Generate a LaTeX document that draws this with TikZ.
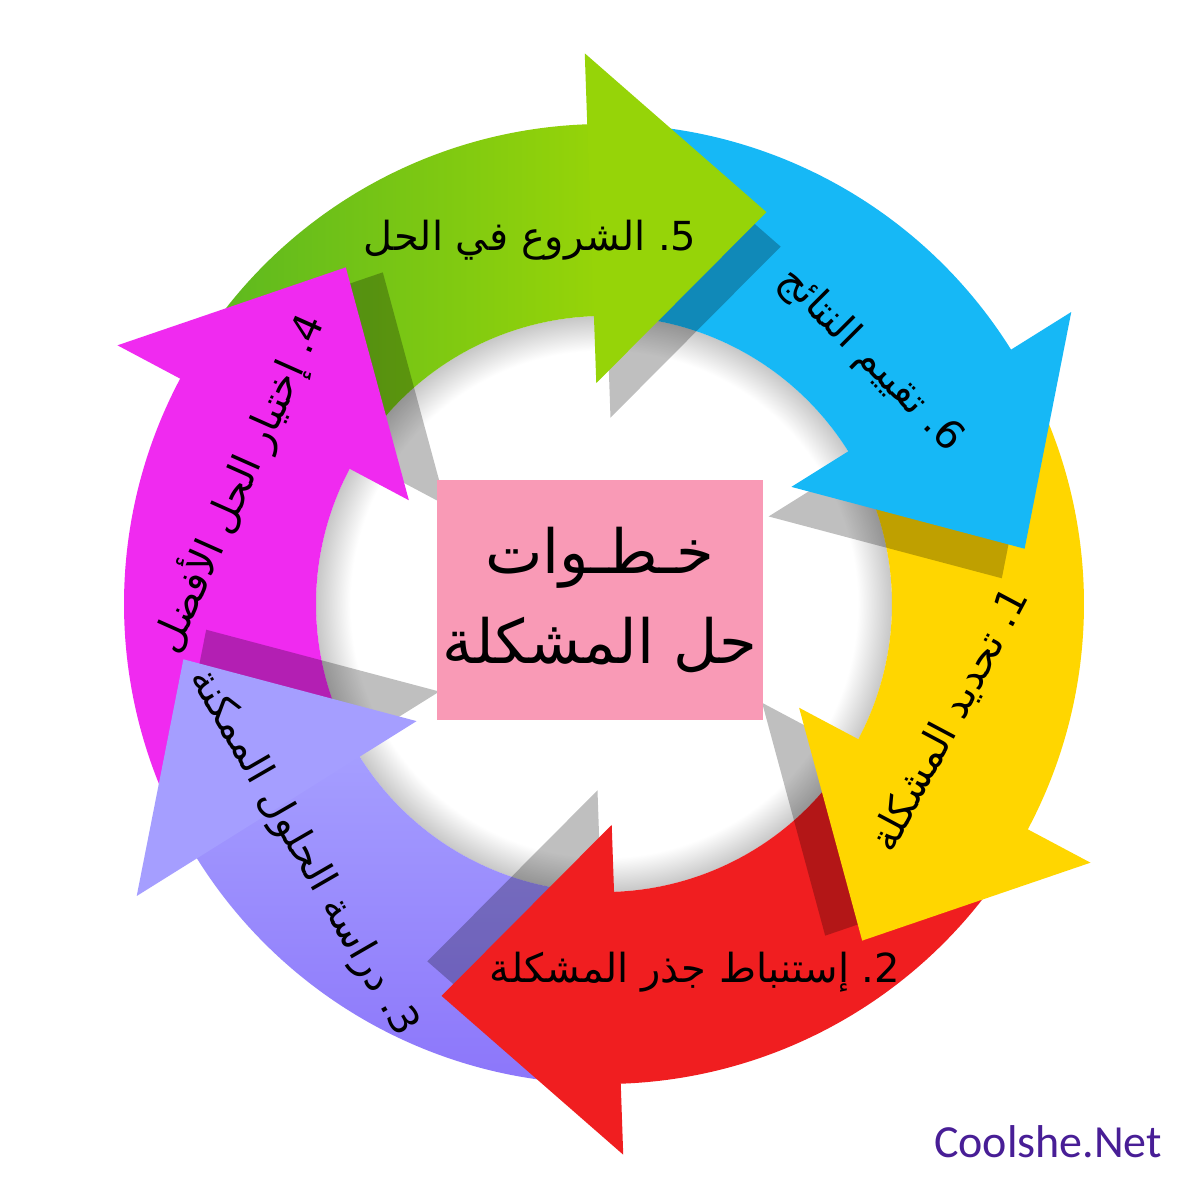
\documentclass[tikz,border=0pt]{standalone}
\usepackage{fontspec}
\TeXXeTstate=1
\newfontfamily\arabicfont[Script=Arabic]{DejaVu Sans}
\newfontfamily\sitefont{Carlito}

\definecolor{stepgreen}{RGB}{150,212,8}
\definecolor{stepgreendark}{RGB}{92,184,32}
\definecolor{stepblue}{RGB}{22,184,246}
\definecolor{stepyellow}{RGB}{255,214,0}
\definecolor{stepred}{RGB}{240,30,32}
\definecolor{steplilac}{RGB}{165,158,255}
\definecolor{steplilacdark}{RGB}{140,118,250}
\definecolor{stepmagenta}{RGB}{240,42,240}
\definecolor{boxpink}{RGB}{249,154,182}
\definecolor{sitepurple}{RGB}{72,30,150}

\pgfdeclareradialshading{innershadow}{\pgfpoint{0bp}{0bp}}{color(0bp)=(white); color(22bp)=(white); color(25bp)=(black!22); color(50bp)=(black!22)}

\tikzset{
	headshadow/.style={fill=black, opacity=.25},
	steptext/.style={font=\arabicfont\fontsize{40}{48}\selectfont, inner sep=0pt},
	titlebox/.style={fill=boxpink, minimum width=326, minimum height=240, inner sep=2pt, align=center,
		font=\arabicfont\fontsize{61}{90}\selectfont}
}

\begin{document}
\begin{tikzpicture}[x=1pt, y=1pt]
	\useasboundingbox (-604,-596) rectangle (596,604);
	\fill[white] (-604,-596) rectangle (596,604);

	% shadow inside the ring
	\shade[shading=innershadow] (0,0) circle[radius=288];

	% ring parts
	\shade[left color=stepgreendark, right color=stepgreen]
		(146:480) arc[start angle=146, end angle=91, radius=480] -- (91:288) arc[start angle=91, end angle=146, radius=288] -- cycle;
	\fill[stepblue]    (86:480) arc[start angle=86, end angle=31, radius=480] -- (31:288) arc[start angle=31, end angle=86, radius=288] -- cycle;
	\fill[stepyellow]  (26:480) arc[start angle=26, end angle=-29, radius=480] -- (-29:288) arc[start angle=-29, end angle=26, radius=288] -- cycle;
	\fill[stepred]     (-34:480) arc[start angle=-34, end angle=-89, radius=480] -- (-89:288) arc[start angle=-89, end angle=-34, radius=288] -- cycle;
	\shade[top color=steplilac, bottom color=steplilacdark]
		(-94:480) arc[start angle=-94, end angle=-149, radius=480] -- (-149:288) arc[start angle=-149, end angle=-94, radius=288] -- cycle;
	\fill[stepmagenta] (206:480) arc[start angle=206, end angle=151, radius=480] -- (151:288) arc[start angle=151, end angle=206, radius=288] -- cycle;

	% shadows of the heads
	\fill[headshadow, rotate=92]   (186,-13) -- (516,-13) -- (351,-189) -- cycle;
	\fill[headshadow, rotate=32]   (186,-13) -- (516,-13) -- (351,-189) -- cycle;
	\fill[headshadow, rotate=-28]  (186,-13) -- (516,-13) -- (351,-189) -- cycle;
	\fill[headshadow, rotate=-88]  (186,-13) -- (516,-13) -- (351,-189) -- cycle;
	\fill[headshadow, rotate=-148] (186,-13) -- (516,-13) -- (351,-189) -- cycle;
	\fill[headshadow, rotate=152]  (186,-13) -- (516,-13) -- (351,-189) -- cycle;

	% heads
	\fill[stepgreen, rotate=92]      (221,0) -- (551,0) -- (386,-176) -- cycle;
	\fill[stepblue, rotate=32]       (221,0) -- (551,0) -- (386,-176) -- cycle;
	\fill[stepyellow, rotate=-28]    (221,0) -- (551,0) -- (386,-176) -- cycle;
	\fill[stepred, rotate=-88]       (221,0) -- (551,0) -- (386,-176) -- cycle;
	\fill[steplilac, rotate=-148]    (221,0) -- (551,0) -- (386,-176) -- cycle;
	\fill[stepmagenta, rotate=152]   (221,0) -- (551,0) -- (386,-176) -- cycle;

	% labels
	\node[steptext]              (start)   at (-74,364)   {\beginR\hbox{5}\hbox{.}\ الشروع في الحل\endR};
	\node[steptext, rotate=-45]  (assess)  at (266,244)   {\beginR\hbox{6}\hbox{.}\ تقييم النتائج\endR};
	\node[steptext, rotate=62]   (define)  at (346,-116)  {\beginR\hbox{1}\hbox{.}\ تحديد المشكلة\endR};
	\node[steptext]              (root)    at (91,-368)   {\beginR\hbox{2}\hbox{.}\ إستنباط جذر المشكلة\endR};
	\node[steptext, rotate=-60]  (study)   at (-301,-249) {\beginR\hbox{3}\hbox{.}\ دراسة الحلول الممكنة\endR};
	\node[steptext, rotate=66]   (choose)  at (-366,121)  {\beginR\hbox{4}\hbox{.}\ إختيار الحل الأفضل\endR};

	\node[titlebox] (title) at (-4,4) {\beginR خـطـوات\endR\\\beginR حل المشكلة\endR};

	\node[text=sitepurple, font=\sitefont\fontsize{46}{54}\selectfont] (site) at (444,-538) {Coolshe.Net};
\end{tikzpicture}
\end{document}
